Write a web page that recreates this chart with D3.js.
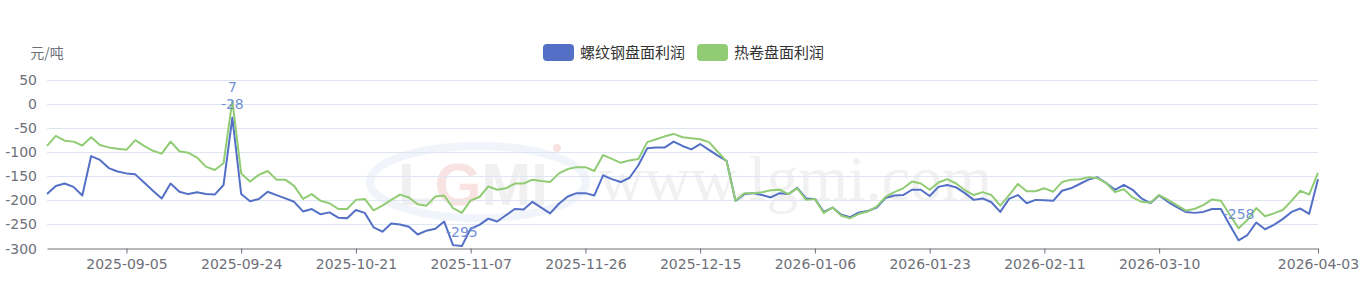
<!DOCTYPE html>
<html>
<head>
<meta charset="utf-8">
<script src="https://cdn.jsdelivr.net/npm/d3@7"></script>
<style>
body { margin: 0; background: #fff; }
svg { display: block; }
text { font-family: "DejaVu Sans", sans-serif; }
.cjk { font-family: "Noto Sans CJK SC", sans-serif; }
</style>
</head>
<body>
<svg id="chart" width="1366" height="284"></svg>
<script>
// trading days shown on the category axis
var dates = [
  "2025-08-25","2025-08-26","2025-08-27","2025-08-28","2025-08-29",
  "2025-09-01","2025-09-02","2025-09-03","2025-09-04","2025-09-05","2025-09-08","2025-09-09","2025-09-10","2025-09-11","2025-09-12",
  "2025-09-15","2025-09-16","2025-09-17","2025-09-18","2025-09-19","2025-09-22","2025-09-23","2025-09-24","2025-09-25","2025-09-26",
  "2025-09-29","2025-09-30",
  "2025-10-09","2025-10-10","2025-10-13","2025-10-14","2025-10-15","2025-10-16","2025-10-17","2025-10-20","2025-10-21","2025-10-22",
  "2025-10-23","2025-10-24","2025-10-27","2025-10-28","2025-10-29","2025-10-30","2025-10-31",
  "2025-11-03","2025-11-04","2025-11-05","2025-11-06","2025-11-07","2025-11-10","2025-11-11","2025-11-12","2025-11-13","2025-11-14",
  "2025-11-17","2025-11-18","2025-11-19","2025-11-20","2025-11-21","2025-11-24","2025-11-25","2025-11-26","2025-11-27","2025-11-28",
  "2025-12-01","2025-12-02","2025-12-03","2025-12-04","2025-12-05","2025-12-08","2025-12-09","2025-12-10","2025-12-11","2025-12-12",
  "2025-12-15","2025-12-16","2025-12-17","2025-12-18","2025-12-19","2025-12-22","2025-12-23","2025-12-24","2025-12-25","2025-12-26",
  "2025-12-29","2025-12-30",
  "2026-01-05","2026-01-06","2026-01-07","2026-01-08","2026-01-09","2026-01-12","2026-01-13","2026-01-14","2026-01-15","2026-01-16",
  "2026-01-19","2026-01-20","2026-01-21","2026-01-22","2026-01-23","2026-01-26","2026-01-27","2026-01-28","2026-01-29","2026-01-30",
  "2026-02-02","2026-02-03","2026-02-04","2026-02-05","2026-02-06","2026-02-09","2026-02-10","2026-02-11","2026-02-12","2026-02-13",
  "2026-02-24","2026-02-25","2026-02-26","2026-02-27",
  "2026-03-02","2026-03-03","2026-03-04","2026-03-05","2026-03-06","2026-03-09","2026-03-10","2026-03-11","2026-03-12","2026-03-13",
  "2026-03-16","2026-03-17","2026-03-18","2026-03-19","2026-03-20","2026-03-23","2026-03-24","2026-03-25","2026-03-26","2026-03-27",
  "2026-03-30","2026-03-31","2026-04-01","2026-04-02","2026-04-03"
];

var rebarProfit = [
  -187,-170,-165,-172,-190,-108,-116,-133,-140,-144,
  -146,-163,-180,-196,-165,-182,-187,-183,-187,-188,
  -168,-28,-187,-202,-197,-182,-189,-196,-203,-223,
  -218,-229,-225,-236,-237,-220,-226,-256,-265,-248,
  -250,-255,-271,-263,-259,-244,-293,-295,-259,-251,
  -238,-244,-231,-218,-219,-203,-215,-227,-207,-192,
  -185,-185,-190,-148,-156,-162,-153,-127,-92,-90,
  -90,-78,-87,-94,-83,-95,-107,-118,-201,-187,
  -185,-189,-194,-185,-187,-174,-196,-197,-224,-215,
  -230,-235,-225,-222,-215,-195,-190,-189,-178,-178,
  -191,-172,-168,-173,-185,-199,-196,-204,-224,-197,
  -189,-206,-199,-200,-201,-180,-175,-166,-157,-152,
  -164,-178,-168,-178,-196,-206,-190,-203,-214,-224,
  -226,-224,-218,-218,-251,-283,-272,-246,-260,-251,
  -239,-224,-217,-228,-156
];

var hotCoilProfit = [
  -87,-66,-76,-78,-86,-69,-85,-90,-93,-95,
  -75,-87,-97,-103,-78,-98,-101,-111,-130,-137,
  -123,7,-144,-161,-147,-139,-157,-157,-170,-197,
  -187,-201,-206,-218,-218,-199,-197,-221,-211,-199,
  -188,-194,-208,-211,-192,-190,-216,-226,-200,-193,
  -171,-178,-175,-165,-165,-157,-160,-162,-144,-135,
  -131,-131,-139,-106,-114,-122,-117,-114,-79,-73,
  -67,-62,-69,-71,-73,-79,-99,-119,-201,-185,
  -185,-183,-179,-178,-187,-175,-199,-197,-226,-215,
  -232,-237,-228,-223,-213,-193,-183,-175,-161,-165,
  -178,-163,-156,-165,-179,-189,-183,-189,-211,-189,
  -166,-181,-181,-175,-182,-162,-157,-156,-152,-154,
  -164,-183,-177,-194,-203,-205,-189,-199,-210,-221,
  -218,-210,-198,-201,-230,-258,-241,-216,-233,-227,
  -220,-201,-180,-188,-143
];

var tickLabels = ["2025-09-05","2025-09-24","2025-10-21","2025-11-07","2025-11-26","2025-12-15",
  "2026-01-06","2026-01-23","2026-02-11","2026-03-10","2026-04-03"];
var yTicks = [50, 0, -50, -100, -150, -200, -250, -300];
var seriesNames = ["螺纹钢盘面利润", "热卷盘面利润"];
var unitName = "元/吨";

var colors = ["#5470c6", "#91cc75"];
var series = [rebarProfit, hotCoilProfit];

var svg = d3.select("#chart");
var plotLeft = 47, plotRight = 1318, plotTop = 80, plotBottom = 248.5;

var x = d3.scalePoint().domain(dates).range([plotLeft, plotRight]);
var y = d3.scaleLinear().domain([-300, 50]).range([plotBottom, plotTop]);

// faint site watermark behind the plot
var wm = svg.append("g").attr("class", "watermark").attr("opacity", 0.55);
wm.append("ellipse")
  .attr("cx", 478).attr("cy", 182).attr("rx", 108).attr("ry", 36)
  .attr("fill", "none").attr("stroke", "#e6ecf6").attr("stroke-width", 8);
var logo = wm.append("text").attr("x", 398).attr("y", 205).attr("font-size", 60).attr("font-weight", "bold")
  .style("font-family", "Liberation Sans");
logo.append("tspan").attr("fill", "#e4e4e4").text("L");
logo.append("tspan").attr("fill", "#f3cccc").text("G");
logo.append("tspan").attr("fill", "#e4e4e4").text("MI");
wm.append("circle").attr("cx", 557).attr("cy", 148).attr("r", 4).attr("fill", "#f3cccc");
wm.append("text").attr("x", 598).attr("y", 200).attr("font-size", 64)
  .attr("fill", "#e6e6e6").style("font-family", "Liberation Serif").text("www.lgmi.com");

// grid lines
svg.append("g")
  .selectAll("line")
  .data(yTicks.filter(function(d) { return d !== -300; }))
  .enter()
  .append("line")
    .attr("x1", plotLeft).attr("x2", plotRight)
    .attr("y1", function(d) { return Math.round(y(d)) + 0.5; })
    .attr("y2", function(d) { return Math.round(y(d)) + 0.5; })
    .attr("stroke", "#e0e6f1");

// y axis labels
svg.append("g")
  .selectAll("text")
  .data(yTicks)
  .enter()
  .append("text")
    .attr("x", 37)
    .attr("y", function(d) { return y(d) + 5; })
    .attr("text-anchor", "end")
    .attr("font-size", "14px")
    .attr("fill", "#6e7079")
    .text(function(d) { return d; });

svg.append("text")
  .attr("class", "cjk")
  .attr("x", 47).attr("y", 58)
  .attr("text-anchor", "middle")
  .attr("font-size", "14px")
  .attr("fill", "#6e7079")
  .text(unitName);

// x axis
var xAxis = d3.axisBottom(x)
  .tickValues(tickLabels)
  .tickSize(5)
  .tickPadding(6)
  .tickSizeOuter(0);

var gx = svg.append("g")
  .attr("transform", "translate(0," + plotBottom + ")")
  .call(xAxis);
gx.select(".domain").attr("stroke", "#6e7079");
gx.selectAll(".tick line").attr("stroke", "#6e7079");
gx.selectAll(".tick text")
  .attr("fill", "#6e7079")
  .attr("font-size", "14px")
  .style("font-family", "DejaVu Sans");

// lines
var line = d3.line()
  .x(function(d, i) { return x(dates[i]); })
  .y(function(d) { return y(d); });

series.forEach(function(s, k) {
  svg.append("path")
    .datum(s)
    .attr("fill", "none")
    .attr("stroke", colors[k])
    .attr("stroke-width", 2)
    .attr("stroke-linejoin", "round")
    .attr("d", line);
});

// max / min value labels
var markData = [];
series.forEach(function(s) {
  [d3.maxIndex(s), d3.minIndex(s)].forEach(function(i) {
    markData.push({ i: i, v: s[i] });
  });
});

svg.append("g")
  .selectAll("text")
  .data(markData)
  .enter()
  .append("text")
    .attr("x", function(d) { return x(dates[d.i]); })
    .attr("y", function(d) { return y(d.v) - 9; })
    .attr("text-anchor", "middle")
    .attr("font-size", "14px")
    .attr("fill", "#7290d6")
    .text(function(d) { return d.v; });

// legend
var legend = svg.append("g").attr("transform", "translate(543, 44)");
var lx = 0;
seriesNames.forEach(function(name, k) {
  legend.append("rect")
    .attr("x", lx).attr("y", 0)
    .attr("width", 31).attr("height", 17)
    .attr("rx", 4)
    .attr("fill", colors[k]);
  var t = legend.append("text")
    .attr("class", "cjk")
    .attr("x", lx + 37).attr("y", 14)
    .attr("font-size", "15px")
    .attr("fill", "#333")
    .text(name);
  lx += 37 + t.node().getComputedTextLength() + 12;
});
</script>
</body>
</html>
